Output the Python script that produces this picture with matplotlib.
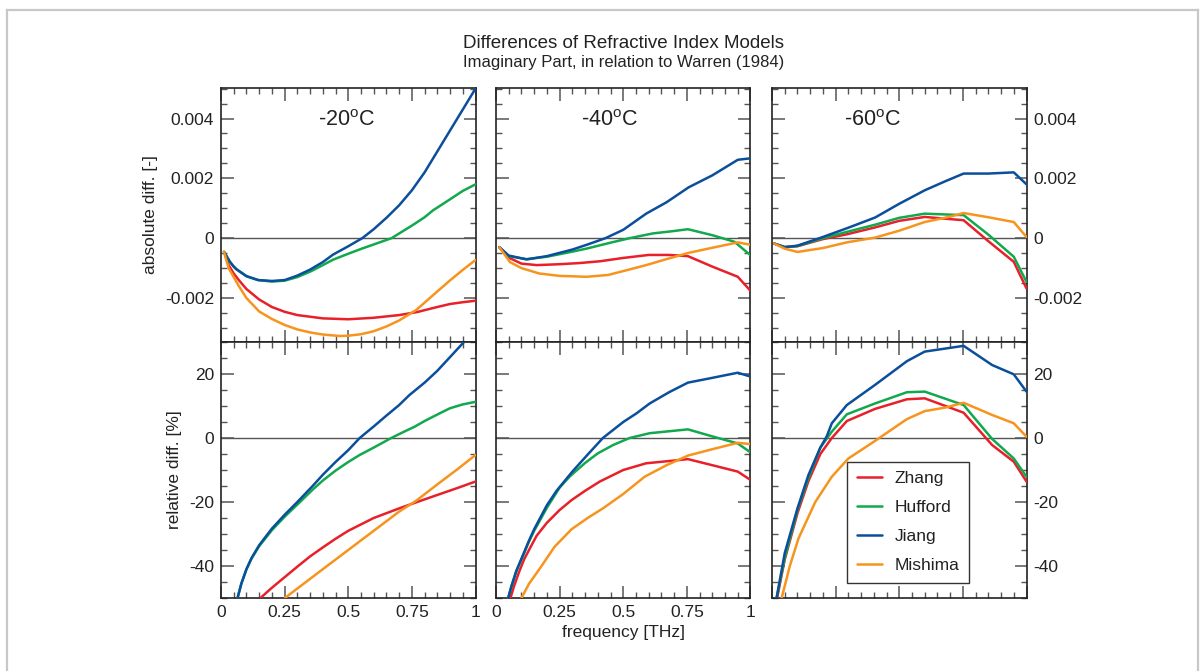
import matplotlib
matplotlib.use("Agg")
import matplotlib.pyplot as plt
from matplotlib.lines import Line2D
from matplotlib.ticker import FixedLocator, MultipleLocator

plt.rcParams['font.family'] = ['Liberation Sans', 'DejaVu Sans']
plt.rcParams['mathtext.fontset'] = 'custom'
plt.rcParams['mathtext.rm'] = 'Liberation Sans'
plt.rcParams['axes.unicode_minus'] = False

models = ["Zhang", "Hufford", "Jiang", "Mishima"]
colors = {"Zhang": "#e8202a", "Hufford": "#12a84e", "Jiang": "#0b4f9c", "Mishima": "#f7941d"}
temps = ["-20", "-40", "-60"]

# ---------- absolute differences (top row) ----------
abs_m20_zhang_x = [0.012, 0.03, 0.05, 0.07, 0.1, 0.15, 0.2, 0.25, 0.3, 0.4, 0.5, 0.6, 0.7, 0.77, 0.85, 0.9, 0.95, 1.0]
abs_m20_zhang_y = [-0.00046, -0.0009, -0.00118, -0.0014, -0.0017, -0.00205, -0.0023, -0.00246, -0.00257, -0.00268, -0.00271, -0.00266, -0.00257, -0.00247, -0.0023, -0.0022, -0.00214, -0.00209]
abs_m20_hufford_x = [0.012, 0.035, 0.05, 0.061, 0.1, 0.146, 0.2, 0.25, 0.3, 0.35, 0.4, 0.44, 0.5, 0.55, 0.6, 0.67, 0.75, 0.8, 0.833, 0.9, 0.95, 1.0]
abs_m20_hufford_y = [-0.00046, -0.00079, -0.00095, -0.00104, -0.00127, -0.0014, -0.00145, -0.00142, -0.0013, -0.00112, -0.0009, -0.00072, -0.00052, -0.00036, -0.00021, 0.0, 0.00042, 0.0007, 0.00093, 0.0013, 0.00158, 0.0018]
abs_m20_jiang_x = [0.012, 0.035, 0.05, 0.061, 0.1, 0.146, 0.2, 0.25, 0.3, 0.35, 0.4, 0.44, 0.5, 0.555, 0.6, 0.65, 0.7, 0.75, 0.8, 0.85, 0.9, 0.95, 1.0]
abs_m20_jiang_y = [-0.00046, -0.00079, -0.00095, -0.00104, -0.00127, -0.0014, -0.00143, -0.0014, -0.00125, -0.00105, -0.0008, -0.00055, -0.00027, 0.0, 0.0003, 0.00068, 0.0011, 0.0016, 0.0022, 0.0029, 0.0036, 0.0043, 0.005]
abs_m20_mishima_x = [0.012, 0.03, 0.05, 0.07, 0.1, 0.15, 0.2, 0.25, 0.3, 0.35, 0.4, 0.467, 0.5, 0.55, 0.6, 0.65, 0.7, 0.767, 0.85, 0.9, 0.95, 1.0]
abs_m20_mishima_y = [-0.00046, -0.001, -0.0013, -0.0016, -0.002, -0.00245, -0.0027, -0.0029, -0.00305, -0.00315, -0.00322, -0.00327, -0.00326, -0.00321, -0.00311, -0.00295, -0.00275, -0.0024, -0.00178, -0.00141, -0.00106, -0.00073]

abs_m40_zhang_x = [0.013, 0.05, 0.1, 0.16, 0.25, 0.33, 0.41, 0.5, 0.6, 0.68, 0.754, 0.85, 0.95, 1.0]
abs_m40_zhang_y = [-0.0003, -0.00065, -0.00085, -0.0009, -0.00087, -0.00083, -0.00077, -0.00066, -0.00056, -0.00056, -0.0006, -0.00095, -0.00129, -0.00176]
abs_m40_hufford_x = [0.013, 0.05, 0.12, 0.2, 0.3, 0.36, 0.45, 0.525, 0.617, 0.69, 0.754, 0.85, 0.937, 1.0]
abs_m40_hufford_y = [-0.0003, -0.0006, -0.0007, -0.00062, -0.00045, -0.00034, -0.00015, 0.0, 0.00016, 0.00023, 0.0003, 0.0001, -0.00012, -0.00057]
abs_m40_jiang_x = [0.013, 0.05, 0.12, 0.2, 0.3, 0.36, 0.43, 0.5, 0.59, 0.67, 0.757, 0.85, 0.95, 1.0]
abs_m40_jiang_y = [-0.0003, -0.00058, -0.00071, -0.0006, -0.00038, -0.00021, 0.0, 0.00028, 0.00082, 0.0012, 0.0017, 0.0021, 0.00262, 0.00267]
abs_m40_mishima_x = [0.013, 0.055, 0.1, 0.17, 0.25, 0.356, 0.44, 0.5, 0.59, 0.67, 0.757, 0.85, 0.95, 1.0]
abs_m40_mishima_y = [-0.0003, -0.0008, -0.001, -0.00118, -0.00126, -0.00129, -0.00123, -0.0011, -0.0009, -0.0007, -0.00049, -0.00032, -0.00014, -0.00022]

abs_m60_zhang_x = [0.009, 0.05, 0.1, 0.2, 0.294, 0.405, 0.5, 0.6, 0.753, 0.85, 0.95, 1.0]
abs_m60_zhang_y = [-0.00018, -0.0003, -0.00027, -0.00003, 0.00013, 0.00036, 0.00058, 0.00071, 0.0006, -0.0001, -0.00079, -0.00168]
abs_m60_hufford_x = [0.009, 0.05, 0.1, 0.2, 0.294, 0.405, 0.5, 0.6, 0.753, 0.85, 0.95, 1.0]
abs_m60_hufford_y = [-0.00018, -0.0003, -0.00026, 0.0, 0.00021, 0.00045, 0.00068, 0.00082, 0.00077, 0.00012, -0.00062, -0.00146]
abs_m60_jiang_x = [0.009, 0.05, 0.1, 0.2, 0.3, 0.405, 0.5, 0.6, 0.68, 0.753, 0.85, 0.95, 1.0]
abs_m60_jiang_y = [-0.00018, -0.0003, -0.00025, 0.00004, 0.00035, 0.00069, 0.00115, 0.0016, 0.0019, 0.00216, 0.00216, 0.0022, 0.0018]
abs_m60_mishima_x = [0.009, 0.05, 0.1, 0.2, 0.294, 0.405, 0.5, 0.6, 0.7, 0.753, 0.85, 0.95, 1.0]
abs_m60_mishima_y = [-0.00018, -0.00035, -0.00046, -0.00033, -0.00014, 0.00002, 0.00025, 0.00054, 0.00072, 0.00084, 0.0007, 0.00054, 0.00004]

# ---------- relative differences (bottom row) ----------
rel_m20_zhang_x = [0.155, 0.2, 0.25, 0.3, 0.35, 0.4, 0.45, 0.5, 0.6, 0.7, 0.767, 0.85, 0.93, 1.0]
rel_m20_zhang_y = [-50, -46.8, -43.5, -40.2, -37.0, -34.2, -31.5, -29.0, -25.0, -22.0, -20.1, -17.8, -15.6, -13.6]
rel_m20_hufford_x = [0.065, 0.08, 0.1, 0.12, 0.15, 0.2, 0.25, 0.3, 0.362, 0.4, 0.45, 0.5, 0.545, 0.6, 0.669, 0.72, 0.76, 0.8, 0.859, 0.9, 0.95, 1.0]
rel_m20_hufford_y = [-50, -45.5, -41, -37.7, -33.8, -28.8, -24.6, -20.8, -16, -13.3, -10.2, -7.5, -5.3, -3, 0, 2, 3.5, 5.3, 7.7, 9.3, 10.5, 11.3]
rel_m20_jiang_x = [0.065, 0.08, 0.1, 0.12, 0.15, 0.2, 0.25, 0.3, 0.36, 0.4, 0.45, 0.5, 0.545, 0.6, 0.65, 0.7, 0.74, 0.8, 0.85, 0.9, 0.95, 1.0]
rel_m20_jiang_y = [-50, -45.5, -41, -37.5, -33.5, -28.3, -24, -20, -15, -11.5, -7.5, -3.8, 0, 3.6, 7, 10.3, 13.4, 17.3, 21, 25.3, 29.6, 33.8]
rel_m20_mishima_x = [0.251, 0.4, 0.5, 0.6, 0.7, 0.767, 0.85, 0.93, 1.0]
rel_m20_mishima_y = [-50, -41, -35, -29, -23, -19.6, -14.5, -9.7, -5.3]

rel_m40_zhang_x = [0.057, 0.07, 0.09, 0.11, 0.133, 0.16, 0.2, 0.25, 0.297, 0.35, 0.408, 0.5, 0.59, 0.68, 0.754, 0.85, 0.95, 1.0]
rel_m40_zhang_y = [-50, -46.5, -42, -38, -34.5, -30.5, -26.5, -22.5, -19.4, -16.5, -13.6, -10, -7.9, -7.2, -6.6, -8.5, -10.5, -13.1]
rel_m40_hufford_x = [0.048, 0.06, 0.08, 0.107, 0.13, 0.15, 0.2, 0.25, 0.29, 0.35, 0.4, 0.46, 0.525, 0.604, 0.754, 0.85, 0.95, 1.0]
rel_m40_hufford_y = [-50, -46.5, -41.6, -36.6, -32.3, -29, -21.8, -15.5, -12, -7.8, -4.8, -2.2, 0, 1.5, 2.7, 0.5, -1.7, -4.5]
rel_m40_jiang_x = [0.048, 0.06, 0.08, 0.107, 0.13, 0.15, 0.2, 0.238, 0.3, 0.36, 0.42, 0.5, 0.552, 0.604, 0.68, 0.754, 0.85, 0.95, 1.0]
rel_m40_jiang_y = [-50, -46.5, -41.5, -36.4, -32, -28.5, -21, -16.5, -10.5, -5.2, 0, 5, 7.7, 10.8, 14.3, 17.3, 18.8, 20.4, 19.2]
rel_m40_mishima_x = [0.1, 0.13, 0.173, 0.23, 0.297, 0.36, 0.42, 0.5, 0.584, 0.67, 0.754, 0.85, 0.95, 1.0]
rel_m40_mishima_y = [-50, -45.5, -40.7, -34, -28.5, -25, -22, -17.5, -12.1, -8.5, -5.5, -3.5, -1.5, -1.9]

rel_m60_zhang_x = [0.02, 0.05, 0.1, 0.143, 0.19, 0.235, 0.294, 0.405, 0.53, 0.6, 0.753, 0.865, 0.95, 1.0]
rel_m60_zhang_y = [-50, -38, -23.5, -13.5, -5, 0, 5.3, 9.1, 12.1, 12.4, 7.9, -2.2, -7.4, -13.6]
rel_m60_hufford_x = [0.018, 0.05, 0.1, 0.143, 0.19, 0.235, 0.294, 0.405, 0.53, 0.6, 0.753, 0.865, 0.95, 1.0]
rel_m60_hufford_y = [-50, -37.5, -22.5, -12.5, -3, 2, 7.4, 10.8, 14.3, 14.5, 10.3, -0.3, -6.4, -12.1]
rel_m60_jiang_x = [0.018, 0.05, 0.1, 0.143, 0.19, 0.215, 0.235, 0.294, 0.405, 0.53, 0.6, 0.753, 0.865, 0.95, 1.0]
rel_m60_jiang_y = [-50, -36, -22, -11.6, -3, 0.5, 4.6, 10.3, 16.6, 24, 27, 28.8, 22.8, 19.9, 14.5]
rel_m60_mishima_x = [0.038, 0.07, 0.104, 0.17, 0.235, 0.3, 0.405, 0.53, 0.6, 0.68, 0.753, 0.865, 0.95, 1.0]
rel_m60_mishima_y = [-50, -40, -31.4, -20, -12.1, -6.4, -0.9, 5.9, 8.4, 9.5, 11, 7.2, 4.6, 0.4]

abs_ticks = [-0.002, 0, 0.002, 0.004]
abs_ticklabels = ["-0.002", "0", "0.002", "0.004"]
rel_ticks = [-40, -20, 0, 20]
rel_ticklabels = ["-40", "-20", "0", "20"]
x_ticks = [0, 0.25, 0.5, 0.75, 1.0]
x_ticklabels = ["0", "0.25", "0.5", "0.75", "1"]

g = globals()

W, H = 1204, 671
fig = plt.figure(figsize=(W / 100, H / 100), dpi=100)

lefts = [221, 496, 772]
width = 254.5
tops = [88, 342]
heights = [254, 256]

FS = 12.5
spine_c = "#222222"
tick_c = "#555555"


def fx(px):
    return px / W


def fy(py):
    return 1 - py / H


axes = {}
for r in range(2):
    for c in range(3):
        ax = fig.add_axes([fx(lefts[c]), fy(tops[r] + heights[r]), width / W, heights[r] / H])
        axes[(r, c)] = ax

for c, t in enumerate(temps):
    key = "m" + t[1:]
    for r, kind in enumerate(["abs", "rel"]):
        ax = axes[(r, c)]
        ax.axhline(0, color="#555555", lw=1.0, zorder=1)
        for m in models:
            xs = g[f"{kind}_{key}_{m.lower()}_x"]
            ys = g[f"{kind}_{key}_{m.lower()}_y"]
            ax.plot(xs, ys, color=colors[m], lw=1.8, label=m, zorder=3,
                    solid_joinstyle="round", solid_capstyle="round")
        ax.set_xlim(0, 1)
        if kind == "abs":
            ax.set_ylim(-0.00347, 0.00502)
            ax.yaxis.set_major_locator(FixedLocator(abs_ticks))
            ax.yaxis.set_minor_locator(MultipleLocator(0.0005))
            ax.set_yticklabels(abs_ticklabels)
        else:
            ax.set_ylim(-50, 30)
            ax.yaxis.set_major_locator(FixedLocator(rel_ticks))
            ax.yaxis.set_minor_locator(MultipleLocator(5))
            ax.set_yticklabels(rel_ticklabels)
        ax.xaxis.set_major_locator(FixedLocator(x_ticks))
        ax.xaxis.set_minor_locator(MultipleLocator(0.05))
        ax.tick_params(which="both", direction="in", top=True, bottom=True,
                       left=True, right=True, color=tick_c, labelsize=FS,
                       labelcolor="#222222", pad=5)
        ax.tick_params(which="major", length=9, width=1.1)
        ax.tick_params(which="minor", length=4.5, width=1.0)
        for s in ax.spines.values():
            s.set_color(spine_c)
            s.set_linewidth(1.2)
        if kind == "abs" or c == 2:
            ax.set_xticklabels([])
        else:
            ax.set_xticklabels(x_ticklabels)
        if c == 0:
            ax.tick_params(labelleft=True, labelright=False)
        elif c == 2:
            ax.tick_params(labelleft=False, labelright=True)
        else:
            ax.tick_params(labelleft=False, labelright=False)

# temperature labels
temp_pos = [0.494, 0.447, 0.394]
for c, t in enumerate(temps):
    axes[(0, c)].text(temp_pos[c], 0.874, t + r"$^{\mathrm{o}}$C", transform=axes[(0, c)].transAxes,
                      ha="center", va="center", fontsize=15.5, color="#222222")

# legend
leg = axes[(1, 2)].legend(loc="lower left", bbox_to_anchor=(0.295, 0.059), fontsize=FS,
                          frameon=True, fancybox=False, framealpha=1, edgecolor="#333333",
                          handlelength=1.45, handletextpad=0.75, labelspacing=0.8,
                          borderpad=0.55, borderaxespad=0)
leg.get_frame().set_linewidth(1.0)
for txt in leg.get_texts():
    txt.set_color("#222222")

# titles
fig.text(fx(623.5), fy(43), "Differences of Refractive Index Models", ha="center", va="center",
         fontsize=13.5, color="#222222")
fig.text(fx(623.5), fy(62), "Imaginary Part, in relation to Warren (1984)", ha="center", va="center",
         fontsize=12, color="#222222")

# axis labels
fig.text(fx(150), fy(215), "absolute diff. [-]", rotation=90, ha="center", va="center",
         fontsize=FS, color="#222222")
fig.text(fx(175), fy(470), "relative diff. [%]", rotation=90, ha="center", va="center",
         fontsize=FS, color="#222222")
fig.text(fx(623.5), fy(632), "frequency [THz]", ha="center", va="center", fontsize=FS, color="#222222")

# outer light frame
frame_c = "#c8c8c8"
fig.add_artist(Line2D([fx(6.5), fx(6.5)], [fy(9.5), 0], color=frame_c, lw=1.6))
fig.add_artist(Line2D([fx(6.5), fx(1197.5)], [fy(9.5), fy(9.5)], color=frame_c, lw=1.6))
fig.add_artist(Line2D([fx(1197.5), fx(1197.5)], [fy(9.5), 0], color=frame_c, lw=1.6))

fig.savefig("out.png", dpi=100)
